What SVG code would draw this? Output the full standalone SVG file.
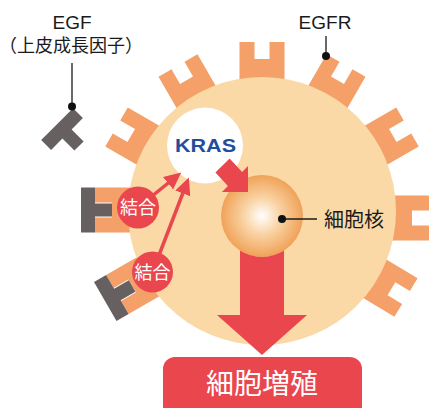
<svg xmlns="http://www.w3.org/2000/svg" width="429" height="408" viewBox="0 0 429 408">
  <style>
    .receptor { fill: #F4A068; }
    .egf { fill: #666160; }
    .lbl { font-family: "Liberation Sans", "Noto Sans CJK JP", sans-serif; fill: #1a1a1a; }
    .jp { font-family: "Noto Sans CJK JP", sans-serif; }
    .leader { stroke: #1a1a1a; stroke-width: 1.3; fill: none; }
    .dot { fill: #111; }
    .red { fill: #E9464E; }
    .sig { stroke: #E9464E; stroke-width: 3.5; fill: none; marker-end: url(#head); }
    .bind circle { fill: #E9464E; }
    .bind text { font-family: "Noto Sans CJK JP", sans-serif; font-size: 18px; fill: #fff; text-anchor: middle; }
  </style>
  <defs>
    <!-- receptor pointing outward (-y), origin at the outer end -->
    <path id="rec" d="M-22.5,0 H-7.5 V17 H7.5 V0 H22.5 V52 H-22.5 Z"/>
    <!-- EGF ligand: crossbar outside, stem in the notch -->
    <path id="lig" d="M-22.5,-14 H22.5 V0 H6.5 V17 H-6.5 V0 H-22.5 Z"/>
    <radialGradient id="nuc" cx="0.5" cy="0.5" r="0.5">
      <stop offset="0" stop-color="#FFFFFF"/>
      <stop offset="0.45" stop-color="#F9D3A4"/>
      <stop offset="1" stop-color="#F0A258"/>
    </radialGradient>
    <marker id="head" markerUnits="userSpaceOnUse" markerWidth="17" markerHeight="17" refX="9" refY="8" orient="auto">
      <path d="M0,0 L17,8 L0,16 Z" fill="#E9464E"/>
    </marker>
  </defs>

  <!-- receptors around the cell membrane -->
  <g id="receptor-150" transform="translate(262,211) rotate(-60) translate(0,-168)"><use href="#rec" class="receptor"/></g>
  <g id="receptor-120" transform="translate(262,211) rotate(-30) translate(0,-168)"><use href="#rec" class="receptor"/></g>
  <g id="receptor-90" transform="translate(262,211) rotate(0) translate(0,-169)"><use href="#rec" class="receptor"/></g>
  <g id="receptor-60" transform="translate(262,211) rotate(30) translate(0,-168)"><use href="#rec" class="receptor"/></g>
  <g id="receptor-30" transform="translate(262,211) rotate(60) translate(0,-168)"><use href="#rec" class="receptor"/></g>
  <g id="receptor-0" transform="translate(262,218) rotate(90) translate(0,-167)"><use href="#rec" class="receptor"/></g>
  <g id="receptor-330" transform="translate(262,211) rotate(121) translate(0,-168)"><use href="#rec" class="receptor"/></g>
  <g id="receptor-bound-left" transform="translate(262,210) rotate(270) translate(0,-167)">
    <use href="#rec" class="receptor"/>
    <use href="#lig" class="egf"/>
  </g>
  <g id="receptor-bound-lower" transform="translate(262,211) rotate(240) translate(0,-167)">
    <use href="#rec" class="receptor"/>
    <use href="#lig" class="egf"/>
  </g>

  <!-- free EGF -->
  <g id="egf-free" transform="translate(67,134) rotate(-45)">
    <use href="#lig" class="egf"/>
  </g>

  <!-- cell body -->
  <g id="cell">
    <circle cx="262" cy="211" r="134" fill="#FAD9A7"/>
  </g>

  <!-- nucleus -->
  <g id="nucleus">
    <circle cx="262" cy="216" r="41" fill="url(#nuc)"/>
  </g>

  <!-- KRAS -->
  <g id="kras">
    <circle cx="205" cy="145.5" r="38" fill="#FFFFFF"/>
    <text x="205.5" y="151.5" font-family="Liberation Sans, sans-serif" font-weight="bold" font-size="18" fill="#1F4E9D" text-anchor="middle" textLength="61" lengthAdjust="spacingAndGlyphs">KRAS</text>
  </g>

  <!-- connectors -->
  <g id="connectors">
    <!-- nucleus to proliferation -->
    <path class="red" d="M240,250.6 A41,41 0 0 0 284,250.6 L284,315 L307,315 L262,355 L217,315 L240,315 Z"/>
    <!-- KRAS to nucleus -->
    <polygon class="red" points="229.6,158.4 242.1,171.9 248,166 248,192 222,192 227.9,186.1 215.4,172.6"/>
    <!-- binding signals to KRAS -->
    <line class="sig" x1="138" y1="207.5" x2="175" y2="177.5"/>
    <line class="sig" x1="152.5" y1="272" x2="186" y2="185"/>
    <!-- leaders -->
    <line class="leader" x1="72" y1="63" x2="72" y2="106"/>
    <line class="leader" x1="326" y1="36" x2="326" y2="56"/>
    <line class="leader" x1="282" y1="219" x2="317" y2="219"/>
    <circle class="dot" cx="72" cy="106.5" r="4"/>
    <circle class="dot" cx="326" cy="56" r="4"/>
    <circle class="dot" cx="282" cy="219" r="4"/>
  </g>

  <!-- binding badges -->
  <g id="bind-1" class="bind">
    <circle cx="138" cy="207.5" r="21"/>
    <text x="138" y="214">結合</text>
  </g>
  <g id="bind-2" class="bind">
    <circle cx="152.5" cy="272" r="20.5"/>
    <text x="152.5" y="278.5">結合</text>
  </g>

  <!-- proliferation -->
  <g id="proliferation">
    <rect x="163" y="357" width="199" height="64" rx="12" class="red"/>
    <text x="262" y="394" font-family="Noto Sans CJK JP, sans-serif" font-size="28" fill="#FFFFFF" text-anchor="middle">細胞増殖</text>
  </g>

  <!-- labels -->
  <g id="labels">
    <text class="lbl" x="72" y="29" font-size="19" text-anchor="middle">EGF</text>
    <text class="lbl jp" x="71" y="52" font-size="18" text-anchor="middle">（上皮成長因子）</text>
    <text class="lbl" x="325" y="29" font-size="19" text-anchor="middle">EGFR</text>
    <text class="lbl jp" x="324" y="226.5" font-size="20">細胞核</text>
  </g>
</svg>
